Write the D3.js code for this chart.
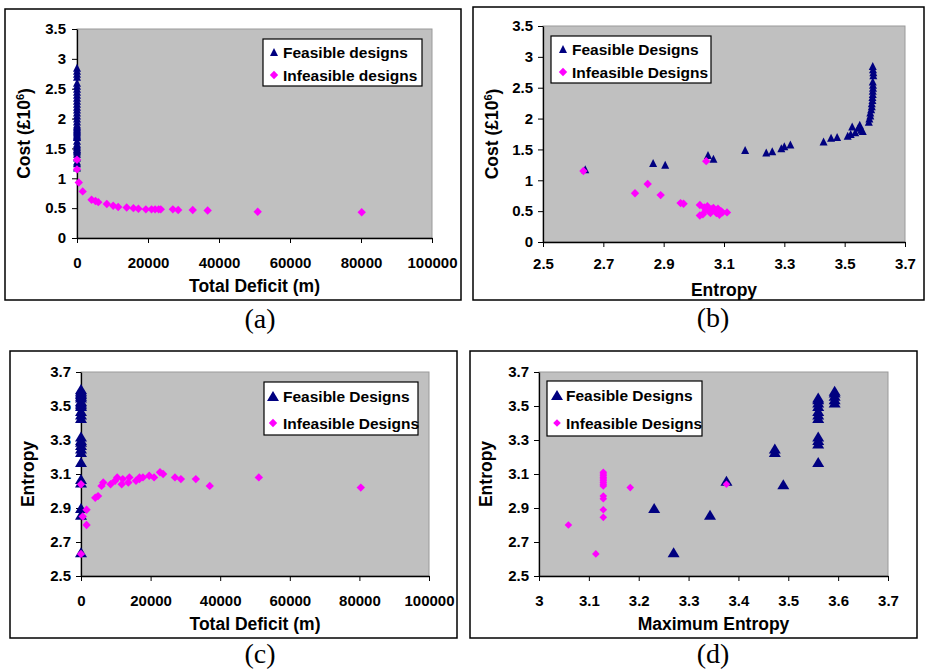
<!DOCTYPE html>
<html>
<head>
<meta charset="utf-8">
<script src="https://cdn.jsdelivr.net/npm/d3@7"></script>
<style>
  body { margin: 0; background: #fff; }
  svg text { font-family: "Liberation Sans", Arial, sans-serif; font-weight: bold; }
  .tick text { font-size: 15px; fill: #000; }
  .tick line, .domain { stroke: #000; }
</style>
</head>
<body>
<div id="chart"></div>
<script>
// Tick values
var costTicks = [0, 0.5, 1, 1.5, 2, 2.5, 3, 3.5];
var deficitTicks = [0, 20000, 40000, 60000, 80000, 100000];
var entropyTicks = [2.5, 2.7, 2.9, 3.1, 3.3, 3.5, 3.7];
var maxEntropyTicks = [3, 3.1, 3.2, 3.3, 3.4, 3.5, 3.6, 3.7];

// (a) Total deficit vs cost
var aFeasible = [[0,1.18],[0,1.25],[0,1.28],[0,1.35],[0,1.41],[0,1.45],[0,1.47],[0,1.49],[0,1.52],[0,1.55],
  [0,1.58],[0,1.63],[0,1.69],[0,1.70],[0,1.72],[0,1.75],[0,1.78],[0,1.80],[0,1.82],[0,1.85],[0,1.87],[0,1.90],
  [0,1.95],[0,2.00],[0,2.05],[0,2.10],[0,2.15],[0,2.20],[0,2.25],[0,2.30],[0,2.35],[0,2.40],[0,2.45],[0,2.50],
  [0,2.55],[0,2.60],[0,2.70],[0,2.75],[0,2.80],[0,2.85]];
var aInfeasible = [[0,1.31],[0,1.15],[500,0.93],[1600,0.78],[4100,0.64],[5200,0.62],[6000,0.60],[8400,0.57],
  [10200,0.54],[11600,0.52],[14000,0.51],[15900,0.50],[17300,0.49],[19400,0.48],[21000,0.48],[22000,0.48],
  [23000,0.48],[23600,0.48],[27000,0.48],[28500,0.47],[32600,0.47],[36800,0.46],[50900,0.44],[80200,0.43]];

// (b) Entropy vs cost
var bFeasible = [[2.64,1.18],[2.865,1.28],[2.905,1.25],[3.047,1.41],[3.065,1.35],[3.17,1.49],[3.24,1.45],
  [3.26,1.47],[3.29,1.52],[3.30,1.55],[3.32,1.58],[3.43,1.63],[3.455,1.69],[3.475,1.70],[3.51,1.72],[3.52,1.75],
  [3.525,1.87],[3.535,1.78],[3.545,1.85],[3.55,1.90],[3.555,1.82],[3.56,1.80],[3.58,1.95],[3.582,2.00],
  [3.585,2.05],[3.585,2.10],[3.588,2.15],[3.59,2.20],[3.59,2.25],[3.592,2.30],[3.592,2.35],[3.593,2.40],
  [3.593,2.45],[3.594,2.50],[3.594,2.55],[3.593,2.60],[3.595,2.70],[3.595,2.75],[3.594,2.80],[3.593,2.85]];
var bInfeasible = [[2.634,1.15],[3.041,1.31],[2.805,0.79],[2.847,0.94],[2.89,0.76],[2.956,0.63],[2.966,0.62],
  [3.02,0.60],[3.035,0.56],[3.045,0.58],[3.02,0.43],[3.03,0.45],[3.04,0.52],[3.05,0.50],[3.06,0.53],[3.07,0.50],
  [3.075,0.47],[3.08,0.54],[3.085,0.44],[3.09,0.50],[3.095,0.48],[3.11,0.48],[3.055,0.47],[3.065,0.55]];

// (c) Total deficit vs entropy
var cFeasible = [[0,2.64],[0,2.86],[0,2.90],[0,3.05],[0,3.07],[0,3.17],[0,3.23],[0,3.25],[0,3.27],[0,3.29],
  [0,3.30],[0,3.32],[0,3.43],[0,3.45],[0,3.47],[0,3.50],[0,3.51],[0,3.52],[0,3.53],[0,3.55],[0,3.56],[0,3.57],
  [0,3.58],[0,3.59],[0,3.60]];
var cInfeasible = [[0,3.04],[0,2.63],[500,2.85],[1600,2.89],[1600,2.80],[4100,2.96],[4900,2.97],[5900,3.03],
  [6400,3.05],[8500,3.04],[9800,3.06],[10400,3.08],[11700,3.04],[12000,3.07],[13600,3.05],[13900,3.08],
  [15800,3.06],[16800,3.07],[16800,3.08],[17800,3.08],[19600,3.09],[21000,3.08],[22700,3.11],[23600,3.10],
  [27000,3.08],[28700,3.07],[33000,3.07],[37000,3.03],[51100,3.08],[80400,3.02]];

// (d) Maximum entropy vs entropy
var dFeasible = [[3.231,2.90],[3.27,2.64],[3.343,2.86],[3.376,3.06],[3.473,3.25],[3.473,3.23],[3.49,3.04],
  [3.56,3.17],[3.56,3.28],[3.56,3.30],[3.56,3.32],[3.56,3.43],[3.56,3.45],[3.56,3.47],[3.56,3.50],[3.56,3.52],
  [3.56,3.54],[3.56,3.55],[3.593,3.52],[3.593,3.54],[3.593,3.56],[3.593,3.58],[3.593,3.59]];
var dInfeasible = [[3.059,2.80],[3.114,2.63],[3.129,2.845],[3.129,2.89],[3.129,2.955],[3.129,2.97],[3.129,3.03],
  [3.129,3.04],[3.129,3.05],[3.129,3.06],[3.129,3.07],[3.129,3.08],[3.129,3.09],[3.129,3.10],[3.129,3.11],
  [3.183,3.02],[3.376,3.04]];

var svg = d3.select("#chart")
  .append("svg")
  .attr("width", 925)
  .attr("height", 671);

// panel setup
var panels = [
  {letter: "(a)", box: [5, 9, 461, 300], plot: [77, 29, 432, 238], letterX: 260, letterY: 328,
   xDomain: [0, 100000], xTicks: deficitTicks, yDomain: [0, 3.5], yTicks: costTicks,
   feasible: aFeasible, infeasible: aInfeasible, tri: [8, 8], dia: 4.2, xPad: 14, yPad: 6,
   xTitle: "Total Deficit (m)", yTitle: "cost", yTitleX: 24,
   legend: {x: 263, y: 39, w: 159, h: 47, mx: 11, tx: 20, r1: 13, r2: 36,
            labels: ["Feasible designs", "Infeasible designs"]}},
  {letter: "(b)", box: [473, 7, 924, 300], plot: [543, 26, 905, 242], letterX: 713, letterY: 327,
   xDomain: [2.5, 3.7], xTicks: entropyTicks, yDomain: [0, 3.5], yTicks: costTicks,
   feasible: bFeasible, infeasible: bInfeasible, tri: [8, 8], dia: 4.2, xPad: 11, yPad: 5,
   xTitle: "Entropy", yTitle: "cost", yTitleX: 492,
   legend: {x: 551, y: 36, w: 160, h: 47, mx: 12, tx: 21, r1: 13, r2: 36,
            labels: ["Feasible Designs", "Infeasible Designs"]}},
  {letter: "(c)", box: [10, 351, 457, 638], plot: [81, 372, 429, 576], letterX: 260, letterY: 663,
   xDomain: [0, 100000], xTicks: deficitTicks, yDomain: [2.5, 3.7], yTicks: entropyTicks,
   feasible: cFeasible, infeasible: cInfeasible, tri: [12, 10], dia: 4.2, xPad: 14, yPad: 5,
   xTitle: "Total Deficit (m)", yTitle: "Entropy", yTitleX: 28,
   legend: {x: 264, y: 382, w: 154, h: 53, mx: 9, tx: 19, r1: 14, r2: 41,
            labels: ["Feasible Designs", "Infeasible Designs"]}},
  {letter: "(d)", box: [470, 351, 917, 638], plot: [539, 372, 888, 576], letterX: 713, letterY: 663,
   xDomain: [3, 3.7], xTicks: maxEntropyTicks, yDomain: [2.5, 3.7], yTicks: entropyTicks,
   feasible: dFeasible, infeasible: dInfeasible, tri: [12, 10], dia: 3.8, xPad: 14, yPad: 5,
   xTitle: "Maximum Entropy", yTitle: "Entropy", yTitleX: 486,
   legend: {x: 547, y: 381, w: 155, h: 55, mx: 10, tx: 19, r1: 14, r2: 42,
            labels: ["Feasible Designs", "Infeasible Designs"]}}
];

function triPath(w, h) {
  return "M0," + (-h / 2) + "L" + (w / 2) + "," + (h / 2) + "L" + (-w / 2) + "," + (h / 2) + "Z";
}
function diaPath(r) {
  return "M0," + (-r) + "L" + r + ",0L0," + r + "L" + (-r) + ",0Z";
}
var fmt = function(d) { return String(+d.toFixed(2)); };

panels.forEach(function(p) {
  var g = svg.append("g");

  // outer frame
  g.append("rect")
    .attr("x", p.box[0]).attr("y", p.box[1])
    .attr("width", p.box[2] - p.box[0]).attr("height", p.box[3] - p.box[1])
    .attr("fill", "#fff").attr("stroke", "#000").attr("stroke-width", 1.5);

  var x = d3.scaleLinear().domain(p.xDomain).range([p.plot[0], p.plot[2]]);
  var y = d3.scaleLinear().domain(p.yDomain).range([p.plot[3], p.plot[1]]);

  // plot area
  g.append("rect")
    .attr("x", p.plot[0]).attr("y", p.plot[1])
    .attr("width", p.plot[2] - p.plot[0]).attr("height", p.plot[3] - p.plot[1])
    .attr("fill", "#c0c0c0").attr("stroke", "#9a9a9a");

  // axes
  g.append("g")
    .attr("transform", "translate(0," + p.plot[3] + ")")
    .call(d3.axisBottom(x).tickValues(p.xTicks).tickFormat(fmt).tickSize(5).tickSizeOuter(0).tickPadding(p.xPad));
  g.append("g")
    .attr("transform", "translate(" + p.plot[0] + ",0)")
    .call(d3.axisLeft(y).tickValues(p.yTicks).tickFormat(fmt).tickSize(5).tickSizeOuter(0).tickPadding(p.yPad));
  g.selectAll(".domain").attr("stroke-width", 1.3);

  // points
  g.append("g").selectAll("path")
    .data(p.feasible)
    .enter()
    .append("path")
    .attr("d", triPath(p.tri[0], p.tri[1]))
    .attr("transform", function(d) { return "translate(" + x(d[0]) + "," + y(d[1]) + ")"; })
    .attr("fill", "#000080");
  g.append("g").selectAll("path")
    .data(p.infeasible)
    .enter()
    .append("path")
    .attr("d", diaPath(p.dia))
    .attr("transform", function(d) { return "translate(" + x(d[0]) + "," + y(d[1]) + ")"; })
    .attr("fill", "#ff00ff");

  // legend
  var L = p.legend;
  g.append("rect")
    .attr("x", L.x).attr("y", L.y).attr("width", L.w).attr("height", L.h)
    .attr("fill", "#fff").attr("stroke", "#000").attr("stroke-width", 1.2);
  g.append("path")
    .attr("d", triPath(p.tri[0], p.tri[1]))
    .attr("transform", "translate(" + (L.x + L.mx) + "," + (L.y + L.r1) + ")")
    .attr("fill", "#000080");
  g.append("path")
    .attr("d", diaPath(p.dia))
    .attr("transform", "translate(" + (L.x + L.mx) + "," + (L.y + L.r2) + ")")
    .attr("fill", "#ff00ff");
  [L.r1, L.r2].forEach(function(r, i) {
    g.append("text")
      .attr("x", L.x + L.tx).attr("y", L.y + r)
      .attr("dy", "0.36em")
      .attr("font-size", "15.5px")
      .text(L.labels[i]);
  });

  // axis titles
  g.append("text")
    .attr("x", (p.plot[0] + p.plot[2]) / 2)
    .attr("y", p.plot[3] + 54)
    .attr("text-anchor", "middle")
    .attr("font-size", "17.5px")
    .text(p.xTitle);

  var yt = g.append("text")
    .attr("transform", "translate(" + p.yTitleX + "," + ((p.plot[1] + p.plot[3]) / 2) + ") rotate(-90)")
    .attr("text-anchor", "middle")
    .attr("dy", "0.36em")
    .attr("font-size", "17.5px");
  if (p.yTitle === "cost") {
    yt.append("tspan").text("Cost (£10");
    yt.append("tspan").attr("font-size", "11px").attr("dy", "-0.6em").text("6");
    yt.append("tspan").attr("dy", "0.4em").text(")");
  } else {
    yt.text(p.yTitle);
  }

  // panel letter
  g.append("text")
    .attr("x", p.letterX).attr("y", p.letterY)
    .attr("text-anchor", "middle")
    .style("font-family", "'Liberation Serif', 'Times New Roman', serif")
    .style("font-weight", "normal")
    .attr("font-size", "28px")
    .text(p.letter);
});
</script>
</body>
</html>
